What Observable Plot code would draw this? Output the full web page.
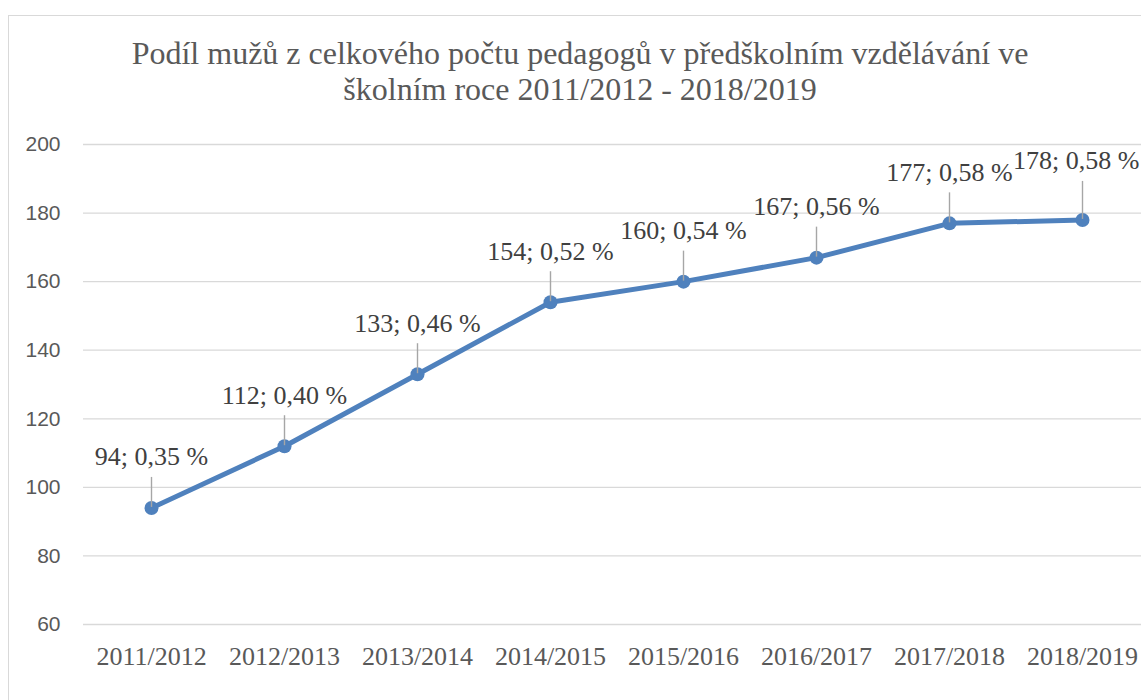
<!DOCTYPE html>
<html>
<head>
<meta charset="utf-8">
<script src="https://cdn.jsdelivr.net/npm/d3@7"></script>
<script src="https://cdn.jsdelivr.net/npm/@observablehq/plot@0.6"></script>
<style>
  html, body { margin: 0; padding: 0; background: #fff; }
  #wrap { position: relative; width: 1141px; height: 700px; overflow: hidden; }
  #frame { position: absolute; left: 8px; top: 15px; width: 1300px; height: 900px; border: 1px solid #d9d9d9; box-sizing: border-box; }
  #title { position: relative; margin: 0; padding-top: 35px; height: 72px; text-align: center; font-family: "Liberation Serif", "Times New Roman", serif; font-size: 32px; line-height: 36px; color: #595959; font-weight: normal; width: 1160px; }
  #chart { position: relative; }
</style>
</head>
<body>
<div id="wrap">
  <div id="frame"></div>
  <div id="title">Podíl mužů z celkového počtu pedagogů v předškolním vzdělávání ve<br>školním roce 2011/2012 - 2018/2019</div>
  <div id="chart"></div>
</div>
<script>
const years = ["2011/2012", "2012/2013", "2013/2014", "2014/2015", "2015/2016", "2016/2017", "2017/2018", "2018/2019"];
const men = [94, 112, 133, 154, 160, 167, 177, 178];
const shares = ["0,35 %", "0,40 %", "0,46 %", "0,52 %", "0,54 %", "0,56 %", "0,58 %", "0,58 %"];
const yTicks = [60, 80, 100, 120, 140, 160, 180, 200];

const data = years.map((y, i) => ({year: y, value: men[i], label: `${men[i]}; ${shares[i]}`}));
const lastIndex = data.length - 1;
const head = data.slice(0, lastIndex);
const tail = data.slice(lastIndex);

const leader = { draw(ctx) { ctx.moveTo(0, -1); ctx.lineTo(0, -31); } };
const leaderLong = { draw(ctx) { ctx.moveTo(0, -1); ctx.lineTo(0, -39); } };
const blue = "#4f81bd";
const labelStyle = { x: "year", y: "value", text: "label", dy: -51, fontSize: 26, fontFamily: "Liberation Serif, Times New Roman, serif", fill: "#404040" };
const leaderStyle = { x: "year", y: "value", fill: "none", stroke: "#a6a6a6", strokeWidth: 1.4 };

const chart = Plot.plot({
  width: 1141,
  height: 593,
  marginLeft: 83,
  marginRight: 0,
  marginTop: 37,
  marginBottom: 76,
  style: { background: "transparent", overflow: "visible" },
  x: { type: "point", domain: years, range: [150, 1083], padding: 0, align: 0.5 },
  y: { domain: [60, 200] },
  marks: [
    Plot.gridY(yTicks, { stroke: "#d9d9d9", strokeOpacity: 1, strokeWidth: 1.3 }),
    Plot.axisY({ ticks: yTicks, tickSize: 0, tickPadding: 23, fontSize: 21, fontFamily: "Liberation Sans, Arial, sans-serif", fill: "#595959", label: null }),
    Plot.axisX({ tickSize: 0, tickPadding: 22, fontSize: 26, fontFamily: "Liberation Serif, Times New Roman, serif", fill: "#595959", label: null }),
    Plot.line(data, { x: "year", y: "value", stroke: blue, strokeWidth: 5, strokeLinejoin: "round", strokeLinecap: "round" }),
    Plot.dot(data, { x: "year", y: "value", r: 7, fill: blue, stroke: "none" }),
    Plot.dot(head, { ...leaderStyle, symbol: leader }),
    Plot.dot(tail, { ...leaderStyle, symbol: leaderLong }),
    Plot.text(head, labelStyle),
    Plot.text(tail, { ...labelStyle, textAnchor: "end", dx: 57, dy: -59 })
  ]
});
document.getElementById("chart").appendChild(chart);
</script>
</body>
</html>
